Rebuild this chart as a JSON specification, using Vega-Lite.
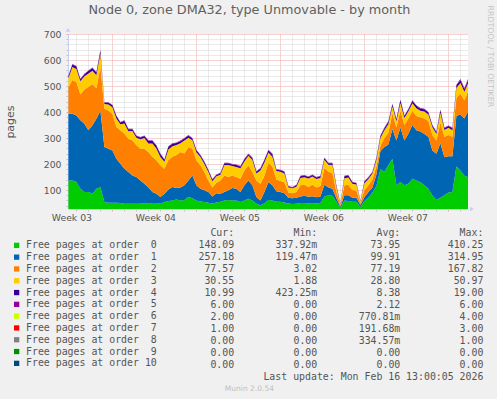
{
  "$schema": "https://vega.github.io/schema/vega-lite/v6.json",
  "background": "#f0f0f0",
  "padding": {"left": 4, "top": 4, "right": 4, "bottom": 6},
  "bounds": "flush",
  "spacing": 18.4,
  "title": {"text": "RRDTOOL / TOBI OETIKER", "orient": "right", "anchor": "start", "frame": "group", "font": "DejaVu Sans", "fontSize": 7.9, "fontWeight": "normal", "color": "#c4c4c4", "offset": 3, "dx": -28.5},
  "config": {
    "view": {"stroke": null},
    "axis": {"labelFont": "DejaVu Sans", "labelFontSize": 9.3, "labelColor": "#555555", "titleFont": "DejaVu Sans", "titleFontWeight": "normal", "titleColor": "#555555", "labelOverlap": false},
    "title": {"font": "DejaVu Sans", "fontWeight": "normal"}
  },
  "vconcat": [
    {
      "width": 400,
      "height": 175,
      "view": {"fill": "#ffffff", "stroke": null},
      "title": {"text": "Node 0, zone DMA32, type Unmovable - by month", "anchor": "middle", "frame": "group", "dx": -18.6, "offset": 11, "font": "DejaVu Sans", "fontSize": 12.8, "fontWeight": "normal", "color": "#606060"},
      "resolve": {"axis": {"x": "independent", "y": "independent"}},
      "layer": [
        {
          "data": {"values": [
            {"t":"2026-01-14T08:00Z","o00":137,"o01":256,"o02":102,"o03":35,"o04":8,"o05":2},
            {"t":"2026-01-14T16:00Z","o00":137,"o01":256,"o02":130,"o03":50,"o04":10,"o05":2},
            {"t":"2026-01-15T00:00Z","o00":131,"o01":256,"o02":128,"o03":50,"o04":10,"o05":2},
            {"t":"2026-01-15T08:00Z","o00":105,"o01":263,"o02":99,"o03":51,"o04":8,"o05":2},
            {"t":"2026-01-15T16:00Z","o00":92,"o01":263,"o02":132,"o03":51,"o04":7,"o05":2},
            {"t":"2026-01-16T00:00Z","o00":92,"o01":238,"o02":167,"o03":51,"o04":10,"o05":2},
            {"t":"2026-01-16T08:00Z","o00":86,"o01":263,"o02":159,"o03":51,"o04":10,"o05":2},
            {"t":"2026-01-16T16:00Z","o00":105,"o01":269,"o02":117,"o03":51,"o04":10,"o05":2},
            {"t":"2026-01-17T00:00Z","o00":111,"o01":294,"o02":168,"o03":51,"o04":11,"o05":4},
            {"t":"2026-01-17T08:00Z","o00":54,"o01":211,"o02":148,"o03":18,"o04":5,"o05":2},
            {"t":"2026-01-17T16:00Z","o00":51,"o01":208,"o02":147,"o03":23,"o04":7,"o05":2},
            {"t":"2026-01-18T00:00Z","o00":51,"o01":201,"o02":141,"o03":25,"o04":8,"o05":2},
            {"t":"2026-01-18T08:00Z","o00":51,"o01":169,"o02":122,"o03":33,"o04":10,"o05":2},
            {"t":"2026-01-18T16:00Z","o00":50,"o01":151,"o02":129,"o03":23,"o04":7,"o05":2},
            {"t":"2026-01-19T00:00Z","o00":47,"o01":135,"o02":135,"o03":39,"o04":10,"o05":2},
            {"t":"2026-01-19T08:00Z","o00":47,"o01":122,"o02":128,"o03":29,"o04":8,"o05":2},
            {"t":"2026-01-19T16:00Z","o00":47,"o01":109,"o02":135,"o03":36,"o04":7,"o05":2},
            {"t":"2026-01-20T00:00Z","o00":47,"o01":103,"o02":122,"o03":29,"o04":7,"o05":2},
            {"t":"2026-01-20T08:00Z","o00":47,"o01":90,"o02":122,"o03":36,"o04":7,"o05":2},
            {"t":"2026-01-20T16:00Z","o00":50,"o01":74,"o02":135,"o03":41,"o04":8,"o05":2},
            {"t":"2026-01-21T00:00Z","o00":47,"o01":64,"o02":135,"o03":33,"o04":10,"o05":2},
            {"t":"2026-01-21T08:00Z","o00":50,"o01":42,"o02":136,"o03":51,"o04":10,"o05":2},
            {"t":"2026-01-21T16:00Z","o00":50,"o01":36,"o02":128,"o03":46,"o04":10,"o05":2},
            {"t":"2026-01-22T00:00Z","o00":47,"o01":26,"o02":122,"o03":32,"o04":11,"o05":2},
            {"t":"2026-01-22T08:00Z","o00":54,"o01":32,"o02":96,"o03":27,"o04":7,"o05":2},
            {"t":"2026-01-22T16:00Z","o00":58,"o01":44,"o02":113,"o03":41,"o04":10,"o05":2},
            {"t":"2026-01-23T00:00Z","o00":60,"o01":52,"o02":116,"o03":40,"o04":10,"o05":2},
            {"t":"2026-01-23T08:00Z","o00":64,"o01":44,"o02":127,"o03":38,"o04":8,"o05":2},
            {"t":"2026-01-23T16:00Z","o00":60,"o01":50,"o02":136,"o03":34,"o04":8,"o05":2},
            {"t":"2026-01-24T00:00Z","o00":62,"o01":56,"o02":122,"o03":50,"o04":8,"o05":2},
            {"t":"2026-01-24T08:00Z","o00":73,"o01":64,"o02":128,"o03":36,"o04":9,"o05":2},
            {"t":"2026-01-24T16:00Z","o00":68,"o01":88,"o02":103,"o03":32,"o04":7,"o05":2},
            {"t":"2026-01-25T00:00Z","o00":60,"o01":58,"o02":96,"o03":31,"o04":8,"o05":2},
            {"t":"2026-01-25T08:00Z","o00":56,"o01":49,"o02":90,"o03":32,"o04":7,"o05":2},
            {"t":"2026-01-25T16:00Z","o00":54,"o01":45,"o02":70,"o03":31,"o04":8,"o05":2},
            {"t":"2026-01-26T00:00Z","o00":51,"o01":41,"o02":45,"o03":32,"o04":7,"o05":2},
            {"t":"2026-01-26T08:00Z","o00":48,"o01":27,"o02":35,"o03":24,"o04":6,"o05":2},
            {"t":"2026-01-26T16:00Z","o00":52,"o01":36,"o02":40,"o03":25,"o04":5,"o05":2},
            {"t":"2026-01-27T00:00Z","o00":55,"o01":31,"o02":51,"o03":22,"o04":5,"o05":2},
            {"t":"2026-01-27T08:00Z","o00":60,"o01":32,"o02":64,"o03":40,"o04":7,"o05":2},
            {"t":"2026-01-27T16:00Z","o00":62,"o01":37,"o02":51,"o03":46,"o04":7,"o05":2},
            {"t":"2026-01-28T00:00Z","o00":60,"o01":48,"o02":48,"o03":36,"o04":6,"o05":2},
            {"t":"2026-01-28T08:00Z","o00":60,"o01":45,"o02":45,"o03":39,"o04":7,"o05":2},
            {"t":"2026-01-28T16:00Z","o00":54,"o01":38,"o02":51,"o03":41,"o04":6,"o05":2},
            {"t":"2026-01-29T00:00Z","o00":60,"o01":58,"o02":57,"o03":35,"o04":8,"o05":2},
            {"t":"2026-01-29T08:00Z","o00":66,"o01":71,"o02":58,"o03":37,"o04":6,"o05":2},
            {"t":"2026-01-29T16:00Z","o00":60,"o01":58,"o02":51,"o03":46,"o04":8,"o05":2},
            {"t":"2026-01-30T00:00Z","o00":47,"o01":26,"o02":64,"o03":27,"o04":6,"o05":2},
            {"t":"2026-01-30T08:00Z","o00":41,"o01":19,"o02":64,"o03":51,"o04":8,"o05":2},
            {"t":"2026-01-30T16:00Z","o00":48,"o01":44,"o02":63,"o03":51,"o04":9,"o05":2},
            {"t":"2026-01-31T00:00Z","o00":62,"o01":68,"o02":75,"o03":39,"o04":9,"o05":2},
            {"t":"2026-01-31T08:00Z","o00":60,"o01":58,"o02":72,"o03":38,"o04":10,"o05":2},
            {"t":"2026-01-31T16:00Z","o00":55,"o01":40,"o02":45,"o03":33,"o04":5,"o05":2},
            {"t":"2026-02-01T00:00Z","o00":55,"o01":37,"o02":43,"o03":35,"o04":6,"o05":2},
            {"t":"2026-02-01T08:00Z","o00":52,"o01":36,"o02":42,"o03":34,"o04":6,"o05":2},
            {"t":"2026-02-01T16:00Z","o00":48,"o01":22,"o02":20,"o03":20,"o04":3,"o05":2},
            {"t":"2026-02-02T00:00Z","o00":46,"o01":22,"o02":20,"o03":19,"o04":3,"o05":2},
            {"t":"2026-02-02T08:00Z","o00":47,"o01":23,"o02":22,"o03":21,"o04":5,"o05":2},
            {"t":"2026-02-02T16:00Z","o00":50,"o01":25,"o02":43,"o03":28,"o04":7,"o05":2},
            {"t":"2026-02-03T00:00Z","o00":50,"o01":28,"o02":42,"o03":29,"o04":7,"o05":2},
            {"t":"2026-02-03T08:00Z","o00":48,"o01":26,"o02":38,"o03":32,"o04":6,"o05":2},
            {"t":"2026-02-03T16:00Z","o00":50,"o01":26,"o02":44,"o03":32,"o04":6,"o05":2},
            {"t":"2026-02-04T00:00Z","o00":48,"o01":24,"o02":38,"o03":32,"o04":6,"o05":2},
            {"t":"2026-02-04T08:00Z","o00":50,"o01":25,"o02":40,"o03":31,"o04":7,"o05":2},
            {"t":"2026-02-04T16:00Z","o00":75,"o01":45,"o02":65,"o03":31,"o04":7,"o05":2},
            {"t":"2026-02-05T00:00Z","o00":80,"o01":30,"o02":60,"o03":27,"o04":6,"o05":2},
            {"t":"2026-02-05T08:00Z","o00":78,"o01":27,"o02":60,"o03":31,"o04":7,"o05":2},
            {"t":"2026-02-05T16:00Z","o00":55,"o01":13,"o02":24,"o03":19,"o04":5,"o05":2},
            {"t":"2026-02-06T00:00Z","o00":30,"o01":6,"o02":6,"o03":4,"o04":2,"o05":2},
            {"t":"2026-02-06T08:00Z","o00":60,"o01":20,"o02":38,"o03":27,"o04":8,"o05":2},
            {"t":"2026-02-06T16:00Z","o00":58,"o01":22,"o02":40,"o03":28,"o04":8,"o05":2},
            {"t":"2026-02-07T00:00Z","o00":55,"o01":15,"o02":30,"o03":24,"o04":6,"o05":2},
            {"t":"2026-02-07T08:00Z","o00":55,"o01":15,"o02":28,"o03":23,"o04":5,"o05":2},
            {"t":"2026-02-07T16:00Z","o00":35,"o01":7,"o02":8,"o03":6,"o04":2,"o05":2},
            {"t":"2026-02-08T00:00Z","o00":58,"o01":14,"o02":28,"o03":26,"o04":7,"o05":2},
            {"t":"2026-02-08T08:00Z","o00":70,"o01":22,"o02":26,"o03":24,"o04":6,"o05":2},
            {"t":"2026-02-08T16:00Z","o00":90,"o01":20,"o02":30,"o03":24,"o04":4,"o05":2},
            {"t":"2026-02-09T00:00Z","o00":115,"o01":45,"o02":30,"o03":25,"o04":8,"o05":2},
            {"t":"2026-02-09T08:00Z","o00":180,"o01":70,"o02":20,"o03":30,"o04":8,"o05":2},
            {"t":"2026-02-09T16:00Z","o00":170,"o01":95,"o02":35,"o03":30,"o04":8,"o05":2},
            {"t":"2026-02-10T00:00Z","o00":195,"o01":80,"o02":45,"o03":34,"o04":9,"o05":2},
            {"t":"2026-02-10T08:00Z","o00":220,"o01":115,"o02":60,"o03":26,"o04":9,"o05":2},
            {"t":"2026-02-10T16:00Z","o00":118,"o01":172,"o02":50,"o03":24,"o04":8,"o05":2},
            {"t":"2026-02-11T00:00Z","o00":131,"o01":209,"o02":65,"o03":30,"o04":11,"o05":2},
            {"t":"2026-02-11T08:00Z","o00":118,"o01":172,"o02":60,"o03":27,"o04":8,"o05":2},
            {"t":"2026-02-11T16:00Z","o00":124,"o01":192,"o02":59,"o03":28,"o04":8,"o05":2},
            {"t":"2026-02-12T00:00Z","o00":143,"o01":207,"o02":55,"o03":29,"o04":9,"o05":2},
            {"t":"2026-02-12T08:00Z","o00":137,"o01":193,"o02":55,"o03":29,"o04":10,"o05":2},
            {"t":"2026-02-12T16:00Z","o00":130,"o01":195,"o02":55,"o03":25,"o04":8,"o05":2},
            {"t":"2026-02-13T00:00Z","o00":118,"o01":197,"o02":60,"o03":27,"o04":9,"o05":2},
            {"t":"2026-02-13T08:00Z","o00":105,"o01":200,"o02":60,"o03":25,"o04":8,"o05":2},
            {"t":"2026-02-13T16:00Z","o00":79,"o01":173,"o02":60,"o03":29,"o04":7,"o05":2},
            {"t":"2026-02-14T00:00Z","o00":62,"o01":177,"o02":51,"o03":26,"o04":7,"o05":2},
            {"t":"2026-02-14T08:00Z","o00":70,"o01":210,"o02":80,"o03":37,"o04":11,"o05":2},
            {"t":"2026-02-14T16:00Z","o00":80,"o01":146,"o02":79,"o03":26,"o04":7,"o05":2},
            {"t":"2026-02-15T00:00Z","o00":90,"o01":140,"o02":82,"o03":27,"o04":7,"o05":2},
            {"t":"2026-02-15T08:00Z","o00":92,"o01":138,"o02":75,"o03":25,"o04":8,"o05":2},
            {"t":"2026-02-15T16:00Z","o00":190,"o01":195,"o02":70,"o03":37,"o04":11,"o05":2},
            {"t":"2026-02-16T00:00Z","o00":175,"o01":215,"o02":80,"o03":42,"o04":11,"o05":4},
            {"t":"2026-02-16T08:00Z","o00":155,"o01":220,"o02":70,"o03":33,"o04":10,"o05":4},
            {"t":"2026-02-16T16:00Z","o00":148,"o01":257,"o02":78,"o03":31,"o04":11,"o05":6}
          ]},
          "transform": [{"fold": ["o00","o01","o02","o03","o04","o05"], "as": ["order","value"]}],
          "mark": {"type": "area", "interpolate": "linear", "opacity": 1, "clip": true},
          "encoding": {
            "x": {
              "field": "t", "type": "temporal",
              "scale": {"type": "utc", "domain": [{"year": 2026, "month": 1, "date": 14, "hours": 7, "minutes": 12, "utc": true}, {"year": 2026, "month": 2, "date": 16, "hours": 15, "minutes": 12, "utc": true}]},
              "axis": {
                "title": null,
                "tickCount": {"interval": "day", "step": 1},
                "grid": true,
                "gridColor": {"condition": {"test": "utcday(datum.value) === 0", "value": "#eea4a4"}, "value": "#d4d4d4"},
                "gridDash": [1, 1],
                "ticks": true,
                "tickSize": 2,
                "tickColor": {"condition": {"test": "utcday(datum.value) === 0", "value": "#eea4a4"}, "value": "#c4c4c4"},
                "domainColor": "#c8cff5",
                "labelExpr": "utcday(datum.value) === 4 ? 'Week ' + utcFormat(datum.value, '%V') : ''",
                "labelOffset": -5,
                "labelFlush": false,
                "labelOverlap": false,
                "labelPadding": 2
              }
            },
            "y": {
              "field": "value", "type": "quantitative", "stack": "zero",
              "scale": {"domain": [27, 700], "nice": false, "zero": false},
              "axis": {
                "title": "pages",
                "titleFontSize": 11,
                "titlePadding": 28,
                "values": [40,60,80,100,120,140,160,180,200,220,240,260,280,300,320,340,360,380,400,420,440,460,480,500,520,540,560,580,600,620,640,660,680,700],
                "grid": true,
                "gridColor": {"condition": {"test": "datum.value % 100 === 0", "value": "#eea4a4"}, "value": "#d4d4d4"},
                "gridDash": [1, 1],
                "tickSize": 2,
                "tickColor": {"condition": {"test": "datum.value % 100 === 0", "value": "#eea4a4"}, "value": "#c4c4c4"},
                "domainColor": "#c8cff5",
                "labelExpr": "datum.value % 100 === 0 ? datum.label : ''",
                "labelOverlap": false,
                "labelPadding": 5
              }
            },
            "color": {
              "field": "order", "type": "nominal",
              "scale": {"domain": ["o00","o01","o02","o03","o04","o05","o06","o07","o08","o09","o10"], "range": ["#00CC00","#0066B3","#FF8000","#FFCC00","#330099","#990099","#CCFF00","#FF0000","#808080","#008F00","#00487D"]},
              "legend": {
                "orient": "none", "legendX": -56.3, "legendY": 206.4, "title": null, "direction": "vertical", "padding": 0,
                "symbolType": "square", "symbolSize": 28, "symbolStrokeWidth": 0, "symbolOpacity": 1,
                "labelFont": "DejaVu Sans Mono", "labelFontSize": 9.9, "labelColor": "#555555", "labelOffset": 4.4, "labelLimit": 0,
                "rowPadding": 0.8,
                "labelExpr": "'Free pages at order ' + (datum.value === 'o10' ? '10' : '\u00a0' + substring(datum.value, 2))"
              }
            },
            "order": {"field": "order", "sort": "ascending"}
          }
        },
        {
          "data": {"values": [{}]},
          "mark": {"type": "point", "shape": "triangle-up", "filled": true, "size": 22, "color": "#c8cff5", "opacity": 1, "clip": false},
          "encoding": {
            "x": {"datum": {"year": 2026, "month": 1, "date": 14, "hours": 7, "minutes": 12, "utc": true}, "type": "temporal", "axis": null},
            "y": {"datum": 716, "type": "quantitative", "axis": null}
          }
        },
        {
          "data": {"values": [{}]},
          "mark": {"type": "point", "shape": "triangle-right", "filled": true, "size": 22, "color": "#c8cff5", "opacity": 1, "clip": false},
          "encoding": {
            "x": {"datum": {"year": 2026, "month": 2, "date": 16, "hours": 23, "minutes": 12, "utc": true}, "type": "temporal", "axis": null},
            "y": {"datum": 27, "type": "quantitative", "axis": null}
          }
        }
      ]
    },
    {
      "width": 415.4,
      "height": 156,
      "view": {"stroke": null},
      "title": {"text": "Munin 2.0.54", "orient": "bottom", "anchor": "middle", "frame": "group", "dx": -26.3, "offset": 2, "font": "DejaVu Sans", "fontSize": 7.5, "fontWeight": "normal", "color": "#c0c0c0"},
      "layer": [
        {
          "data": {"values": [
            {"order": "o00", "Cur:": "148.09\u00a0", "Min:": "337.92m", "Avg:": "73.95\u00a0", "Max:": "410.25\u00a0"},
            {"order": "o01", "Cur:": "257.18\u00a0", "Min:": "119.47m", "Avg:": "99.91\u00a0", "Max:": "314.95\u00a0"},
            {"order": "o02", "Cur:": "77.57\u00a0", "Min:": "3.02\u00a0", "Avg:": "77.19\u00a0", "Max:": "167.82\u00a0"},
            {"order": "o03", "Cur:": "30.55\u00a0", "Min:": "1.88\u00a0", "Avg:": "28.80\u00a0", "Max:": "50.97\u00a0"},
            {"order": "o04", "Cur:": "10.99\u00a0", "Min:": "423.25m", "Avg:": "8.38\u00a0", "Max:": "19.00\u00a0"},
            {"order": "o05", "Cur:": "6.00\u00a0", "Min:": "0.00\u00a0", "Avg:": "2.12\u00a0", "Max:": "6.00\u00a0"},
            {"order": "o06", "Cur:": "2.00\u00a0", "Min:": "0.00\u00a0", "Avg:": "770.81m", "Max:": "4.00\u00a0"},
            {"order": "o07", "Cur:": "1.00\u00a0", "Min:": "0.00\u00a0", "Avg:": "191.68m", "Max:": "3.00\u00a0"},
            {"order": "o08", "Cur:": "0.00\u00a0", "Min:": "0.00\u00a0", "Avg:": "334.57m", "Max:": "1.00\u00a0"},
            {"order": "o09", "Cur:": "0.00\u00a0", "Min:": "0.00\u00a0", "Avg:": "0.00\u00a0", "Max:": "0.00\u00a0"},
            {"order": "o10", "Cur:": "0.00\u00a0", "Min:": "0.00\u00a0", "Avg:": "0.00\u00a0", "Max:": "0.00\u00a0"}
          ]},
          "transform": [{"fold": ["Cur:","Min:","Avg:","Max:"], "as": ["col","val"]}],
          "mark": {"type": "text", "align": "right", "baseline": "middle", "font": "DejaVu Sans Mono", "fontSize": 9.9, "color": "#555555"},
          "encoding": {
            "x": {
              "field": "col", "type": "nominal",
              "scale": {"type": "point", "domain": ["Cur:","Min:","Avg:","Max:"], "padding": 1.106, "align": 1},
              "axis": null
            },
            "y": {
              "field": "order", "type": "nominal",
              "scale": {"type": "band", "domain": ["hdr","o00","o01","o02","o03","o04","o05","o06","o07","o08","o09","o10","last"], "paddingInner": 0, "paddingOuter": 0},
              "axis": null
            },
            "text": {"field": "val"}
          }
        },
        {
          "data": {"values": [
            {"order": "hdr", "col": "Cur:", "val": "Cur:\u00a0\u00a0"},
            {"order": "hdr", "col": "Min:", "val": "Min:\u00a0\u00a0"},
            {"order": "hdr", "col": "Avg:", "val": "Avg:\u00a0\u00a0"},
            {"order": "hdr", "col": "Max:", "val": "Max:\u00a0\u00a0"},
            {"order": "last", "col": "Max:", "val": "Last update: Mon Feb 16 13:00:05 2026"}
          ]},
          "mark": {"type": "text", "align": "right", "baseline": "middle", "font": "DejaVu Sans Mono", "fontSize": 9.9, "color": "#555555"},
          "encoding": {
            "x": {"field": "col", "type": "nominal", "axis": null},
            "y": {"field": "order", "type": "nominal", "axis": null},
            "text": {"field": "val"}
          }
        }
      ]
    }
  ]
}
